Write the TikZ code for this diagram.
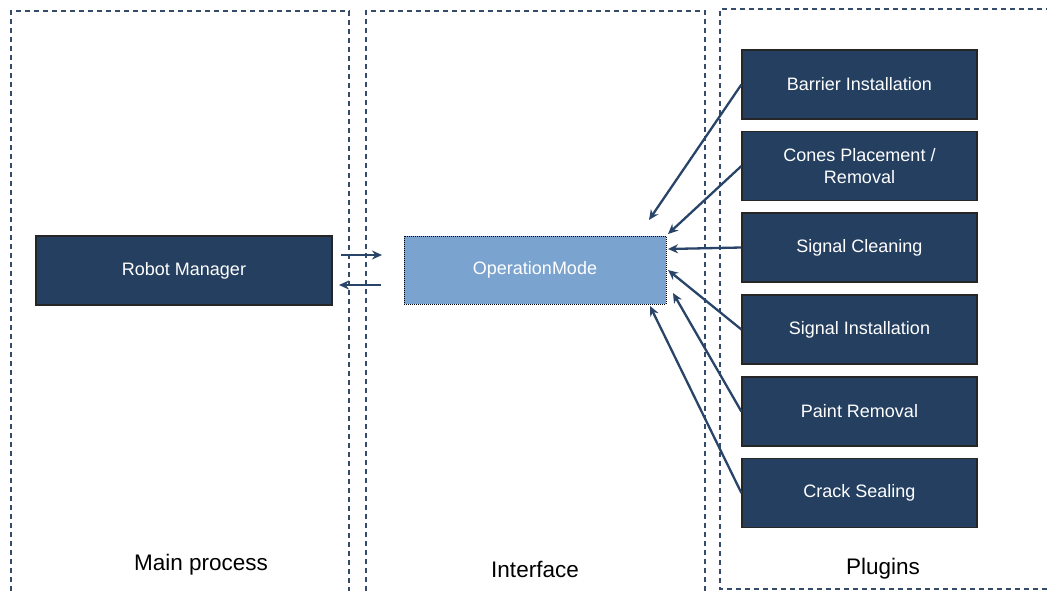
\documentclass[tikz,border=0pt]{standalone}
\usepackage{fontspec}
\setmainfont{Liberation Sans}
\usetikzlibrary{arrows.meta}
\definecolor{navy}{RGB}{36,63,96}
\definecolor{lightblue}{RGB}{123,163,207}
\definecolor{dashc}{RGB}{52,76,106}
\definecolor{arrc}{RGB}{40,68,104}
\tikzset{
  region/.style={draw=dashc, line width=1.3pt, dash pattern=on 5pt off 4pt},
  darkbox/.style={draw=black!85, line width=1.2pt, fill=navy, text=white,
    font=\fontsize{18}{21.5}\selectfont, align=center, inner sep=0pt},
  plugin/.style={darkbox, minimum width=235pt, minimum height=69pt},
  lbl/.style={font=\fontsize{22.5}{26}\selectfont, text=black, inner sep=0pt},
  arr/.style={draw=arrc, line width=2.3pt, -{Stealth[length=10pt,width=9pt]}}
}
\begin{document}
\begin{tikzpicture}[x=1pt,y=-1pt]
\useasboundingbox (0,0) rectangle (1047,590);
\begin{scope}
\clip (0,0) rectangle (1047,590);
\draw[region] (11,600) -- (11,11) -- (349,11) -- (349,600);
\draw[region] (366,600) -- (366,11) -- (705,11) -- (705,600);
\draw[region] (1060,9) -- (720,9) -- (720,589) -- (1060,589);
\end{scope}

\node[darkbox, minimum width=296pt, minimum height=69pt] (robot) at (184,270.5) {Robot Manager};
\node[draw=black, line width=1pt, densely dotted, fill=lightblue, text=white,
  font=\fontsize{18}{21.5}\selectfont, minimum width=262pt, minimum height=68pt, inner sep=0pt]
  (opmode) at (535,270) {OperationMode};

\node[plugin] (barrier) at (859.5,84.5) {Barrier Installation};
\node[plugin] (cones) at (859.5,166) {Cones Placement /\\Removal};
\node[plugin] (cleaning) at (859.5,247.5) {Signal Cleaning};
\node[plugin] (signal) at (859.5,329.5) {Signal Installation};
\node[plugin] (paint) at (859.5,411.5) {Paint Removal};
\node[plugin] (crack) at (859.5,493) {Crack Sealing};

\node[lbl] (lmain) at (201,565) {Main process};
\node[lbl] (linter) at (535,569) {Interface};
\node[lbl] (lplug) at (883,569) {Plugins};

\coordinate (r1s) at (341,255);
\coordinate (r1e) at (382,255);
\coordinate (l1s) at (381,285);
\coordinate (l1e) at (339,285);
\draw[arr] (r1s) -- (r1e);
\draw[arr] (l1s) -- (l1e);

\coordinate (e1) at (649,220);
\coordinate (e2) at (668,234);
\coordinate (e3) at (668,249);
\coordinate (e4) at (668,270);
\coordinate (e5) at (673,293);
\coordinate (e6) at (650,306);
\draw[arr] (barrier.west) -- (e1);
\draw[arr] (cones.west) -- (e2);
\draw[arr] (cleaning.west) -- (e3);
\draw[arr] (signal.west) -- (e4);
\draw[arr] (paint.west) -- (e5);
\draw[arr] (crack.west) -- (e6);
\end{tikzpicture}
\end{document}
